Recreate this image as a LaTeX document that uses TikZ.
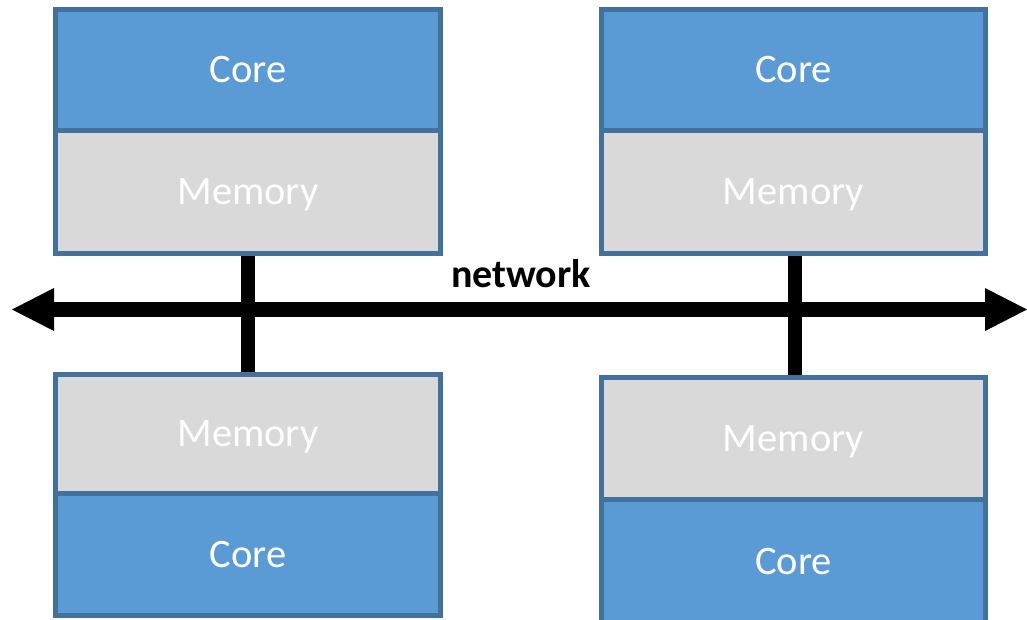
\documentclass[tikz,border=0pt]{standalone}
\usepackage{fontspec}
\setmainfont{Carlito}
\usetikzlibrary{arrows.meta,backgrounds}

\definecolor{coreblue}{HTML}{5B9BD5}
\definecolor{edgeblue}{HTML}{41719C}
\definecolor{memgray}{HTML}{D9D9D9}

\tikzset{
  unit/.style={draw=edgeblue, line width=5pt, rectangle, inner sep=0pt,
    text=white, font=\fontsize{40.5}{40.5}\selectfont,
    text height=26pt, text depth=0pt},
  corebox/.style={unit, fill=coreblue},
  membox/.style={unit, fill=memgray},
  link/.style={line width=14pt, black},
  bus/.style={line width=14.5pt, black,
    arrows={Triangle[width=43pt, length=42pt, line width=0pt]-Triangle[width=43pt, length=42pt, line width=0pt]}},
  buslabel/.style={font=\bfseries\fontsize{40}{40}\selectfont, text=black, inner sep=0pt,
    text height=19pt, text depth=0pt}
}

\begin{document}
\begin{tikzpicture}[x=1pt, y=-1pt]
  \useasboundingbox (0,0) rectangle (1027,619);

  % upper left processor
  \node[corebox, minimum width=385pt, minimum height=120.5pt] (tlcore) at (248,69.75) {Core};
  \node[membox, minimum width=385pt, minimum height=123.5pt] (tlmem) at (248,191.75) {Memory};

  % upper right processor
  \node[corebox, minimum width=384pt, minimum height=120.5pt] (trcore) at (793.5,69.75) {Core};
  \node[membox, minimum width=384pt, minimum height=123.5pt] (trmem) at (793.5,191.75) {Memory};

  % lower left processor
  \node[membox, minimum width=385pt, minimum height=119pt] (blmem) at (248,433.5) {Memory};
  \node[corebox, minimum width=385pt, minimum height=122.5pt] (blcore) at (248,554.25) {Core};

  % lower right processor
  \node[membox, minimum width=384pt, minimum height=121.5pt] (brmem) at (793.5,438.25) {Memory};
  \node[corebox, minimum width=384pt, minimum height=124pt] (brcore) at (793.5,561) {Core};

  % interconnect
  \coordinate (netL) at (12,309.5);
  \coordinate (netR) at (1027,309.5);
  \node[buslabel, anchor=base] (netlabel) at (521,287) {network};

  \begin{scope}[on background layer]
    \fill[white] (0,0) rectangle (1027,619);
    \draw[link] (tlmem.south) -- (blmem.north);
    \draw[link] ([xshift=1pt]trmem.south) -- ([xshift=1pt]brmem.north);
    \draw[bus] (netL) -- (netR);
  \end{scope}
\end{tikzpicture}
\end{document}
